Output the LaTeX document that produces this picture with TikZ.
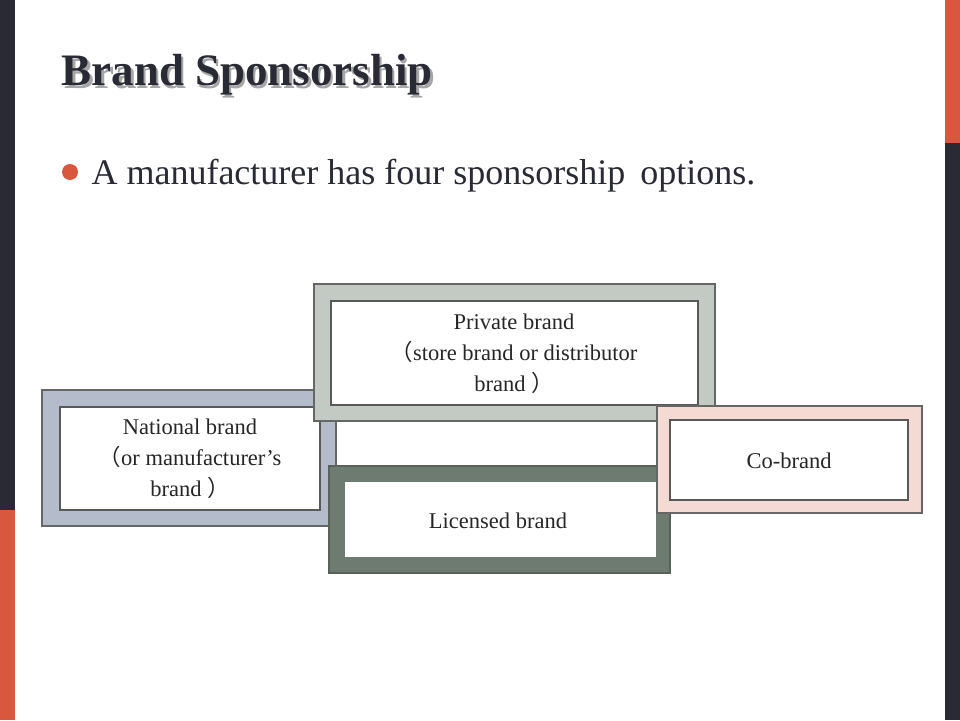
\documentclass[tikz,border=0pt]{standalone}
\usepackage{fontspec}
\setmainfont{Liberation Serif}
\newfontfamily\cjk{Noto Sans CJK SC}
\newcommand{\lp}{{\cjk （}}
\newcommand{\rp}{{\cjk ）}}
\begin{document}
\begin{tikzpicture}[x=1pt,y=-1pt,
  inner/.style={draw=black!65, line width=1.5pt, fill=white},
  lbl/.style={align=center, font=\fontsize{22.5}{31}\selectfont, text=black!85}]
\useasboundingbox (0,0) rectangle (960,720);
\fill[white] (0,0) rectangle (960,720);
\definecolor{acc}{HTML}{D9573F}
\definecolor{dk}{HTML}{2A2A35}
\fill[dk] (0,0) rectangle (15,510);
\fill[acc] (0,510) rectangle (15,720);
\fill[acc] (945,0) rectangle (960,143);
\fill[dk] (945,143) rectangle (960,720);
\node[anchor=west, font=\bfseries\fontsize{45}{50}\selectfont, text=black!35] (tsh) at (60.5,77.5) {Brand Sponsorship};
\node[anchor=west, font=\bfseries\fontsize{45}{50}\selectfont, text=dk] (title) at (58,75) {Brand Sponsorship};
\fill[acc] (70,172) circle (8);
\node[anchor=west, font=\fontsize{36}{40}\selectfont, text=dk] (bul) at (88,176) {A manufacturer has four sponsorship\, options.};
\definecolor{nat}{HTML}{B4BCCB}
\definecolor{pri}{HTML}{C2CAC3}
\definecolor{lic}{HTML}{6E7B70}
\definecolor{cob}{HTML}{F5DAD3}
\filldraw[fill=nat, draw=gray!80!black, line width=1.2pt] (42,390) rectangle (336,526);
\filldraw[inner] (60,407) rectangle (320,510);
\node[lbl] (nat) at (190,459) {National brand\\ \lp or manufacturer’s\\ brand \rp};
\filldraw[fill=pri, draw=gray!80!black, line width=1.2pt] (314,284) rectangle (715,421);
\filldraw[inner] (331,301) rectangle (698,405);
\node[lbl] (pri) at (514,354) {Private brand\\ \lp store brand or distributor\\ brand \rp};
\filldraw[fill=lic, draw=lic!80!black, line width=1.2pt] (329,466) rectangle (670,573);
\filldraw[fill=white, draw=lic] (344,481) rectangle (656,557);
\node[lbl] (lic) at (498,521) {Licensed brand};
\filldraw[fill=cob, draw=gray!80!black, line width=1.2pt] (657,406) rectangle (922,513);
\filldraw[inner] (670,420) rectangle (908,500);
\node[lbl] (cob) at (789,461) {Co-brand};
\end{tikzpicture}
\end{document}
